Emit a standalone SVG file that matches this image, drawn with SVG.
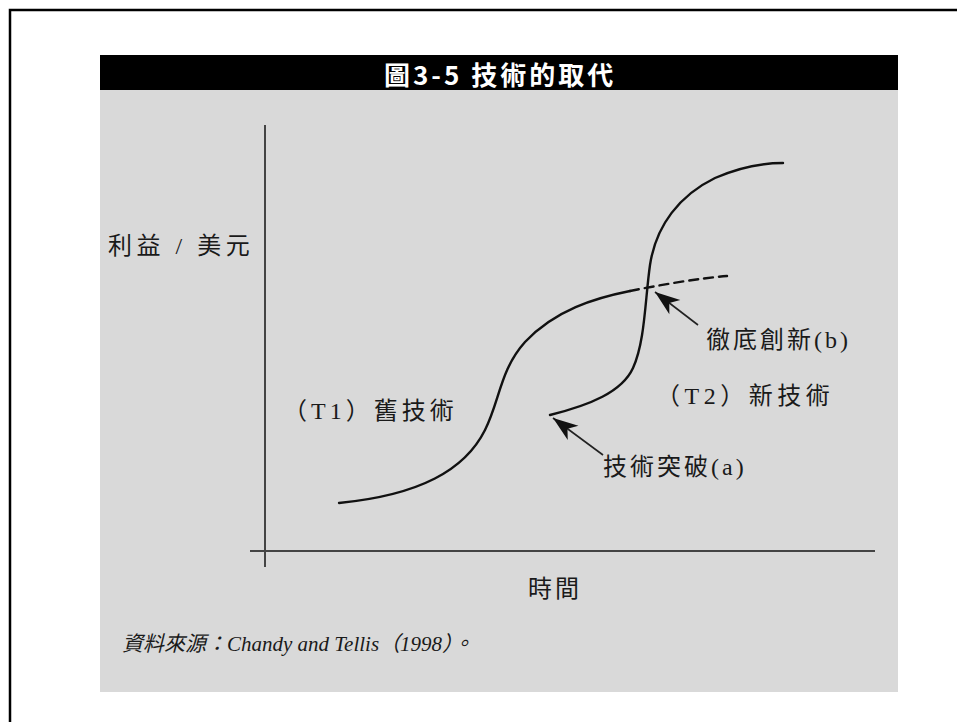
<svg xmlns="http://www.w3.org/2000/svg" width="957" height="722" viewBox="0 0 957 722">
<style>
.lbl{font-family:"Liberation Serif","Noto Sans CJK TC",serif;font-size:24px;fill:#1a1a1a;letter-spacing:3px;}
.src{font-family:"Liberation Serif","Noto Sans CJK TC",serif;font-size:21px;font-style:italic;fill:#1a1a1a;}
.axis{stroke:#444;stroke-width:2;fill:none;}
.curve{stroke:#111;stroke-width:2.4;fill:none;stroke-linecap:round;}
.ptr{stroke:#222;stroke-width:1.6;fill:none;}
</style>
<defs>
<marker id="ah" markerUnits="userSpaceOnUse" markerWidth="30" markerHeight="22" viewBox="-26 -11 28 22" refX="0" refY="0" orient="auto">
<path d="M0,0 L-25,-9 L-18,0 L-25,9 Z" fill="#111"/>
</marker>
</defs>
<rect x="0" y="0" width="957" height="722" fill="#fff"/>
<rect id="frame" x="10" y="10" width="970" height="740" fill="none" stroke="#000" stroke-width="2.5"/>
<g id="panel">
<rect x="100" y="90" width="798" height="602" fill="#d9d9d9"/>
<rect x="100" y="55" width="798" height="35" fill="#000"/>
<text x="384" y="85" style="font-family:'Noto Sans CJK TC','Liberation Sans',sans-serif;font-weight:bold;font-size:26px;fill:#fff;letter-spacing:3px">圖3-5 技術的取代</text>
</g>
<g id="axes">
<line class="axis" x1="265" y1="125" x2="265" y2="567"/>
<line class="axis" x1="250" y1="551" x2="875" y2="551"/>
</g>
<g id="t1-curve">
<path class="curve" d="M339,503 C420,495 465,470 485,430 C500,400 500,370 525,342 C555,310 595,298 630,291"/>
<path class="curve" d="M630,291 C660,285 700,278 727,276" stroke-dasharray="9 6" stroke-linecap="butt"/>
</g>
<g id="t2-curve">
<path class="curve" d="M550,415 C590,405 622,392 633,368 C645,342 645,300 650,265 C656,225 680,195 715,178 C740,167 760,163 783,163"/>
</g>
<g id="connectors">
<line class="ptr" x1="603" y1="455" x2="553" y2="418" marker-end="url(#ah)"/>
<line class="ptr" x1="698" y1="325" x2="655" y2="292" marker-end="url(#ah)"/>
</g>
<g id="labels">
<text class="lbl" x="108" y="254" style="letter-spacing:4.5px">利益 / 美元</text>
<text class="lbl" x="283" y="419" style="letter-spacing:4px">（T1）舊技術</text>
<text class="lbl" x="656" y="404" style="letter-spacing:4.5px">（T2）新技術</text>
<text class="lbl" x="706" y="348">徹底創新(b)</text>
<text class="lbl" x="603" y="475">技術突破(a)</text>
<text class="lbl" x="528" y="597">時間</text>
<text class="src" x="122" y="651">資料來源：Chandy and Tellis（1998）。</text>
</g>
</svg>
